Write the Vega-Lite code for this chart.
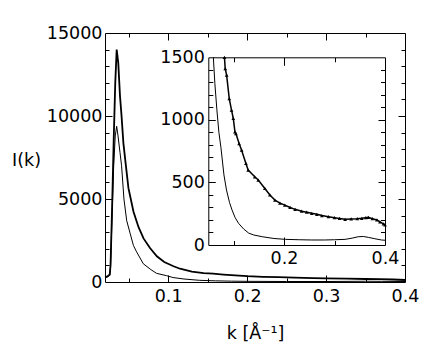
{
  "$schema": "https://vega.github.io/schema/vega-lite/v6.json",
  "width": 300,
  "height": 249,
  "autosize": "none",
  "padding": {"left": 105, "top": 33, "right": 29, "bottom": 71},
  "background": "white",
  "config": {
    "view": {"stroke": "black", "strokeWidth": 1},
    "axis": {"labelFont": "DejaVu Sans", "labelFontSize": 17.5, "labelColor": "black", "titleFont": "DejaVu Sans", "titleFontSize": 17.5, "titleFontWeight": "normal", "titleColor": "black", "grid": false, "labelFlush": false, "labelOverlap": false, "tickColor": "black", "domainColor": "black", "tickWidth": 1, "domainWidth": 1}
  },
  "datasets": {
    "main": [
      {"k":0.020,"I":300,"s":"A"},{"k":0.023,"I":340,"s":"A"},{"k":0.026,"I":450,"s":"A"},{"k":0.027,"I":1000,"s":"A"},{"k":0.029,"I":4500,"s":"A"},{"k":0.031,"I":8500,"s":"A"},{"k":0.033,"I":12000,"s":"A"},{"k":0.0348,"I":14000,"s":"A"},{"k":0.0368,"I":13200,"s":"A"},{"k":0.039,"I":11200,"s":"A"},{"k":0.041,"I":9980,"s":"A"},{"k":0.0433,"I":8370,"s":"A"},{"k":0.0465,"I":7000,"s":"A"},{"k":0.0497,"I":5650,"s":"A"},{"k":0.0561,"I":4235,"s":"A"},{"k":0.0625,"I":3300,"s":"A"},{"k":0.0688,"I":2625,"s":"A"},{"k":0.077,"I":2050,"s":"A"},{"k":0.0857,"I":1550,"s":"A"},{"k":0.095,"I":1200,"s":"A"},{"k":0.1068,"I":950,"s":"A"},{"k":0.115,"I":800,"s":"A"},{"k":0.13,"I":620,"s":"A"},{"k":0.145,"I":540,"s":"A"},{"k":0.157,"I":500,"s":"A"},{"k":0.17,"I":450,"s":"A"},{"k":0.185,"I":400,"s":"A"},{"k":0.2,"I":350,"s":"A"},{"k":0.22,"I":310,"s":"A"},{"k":0.24,"I":290,"s":"A"},{"k":0.26,"I":260,"s":"A"},{"k":0.284,"I":235,"s":"A"},{"k":0.3,"I":220,"s":"A"},{"k":0.326,"I":200,"s":"A"},{"k":0.35,"I":180,"s":"A"},{"k":0.368,"I":170,"s":"A"},{"k":0.385,"I":150,"s":"A"},{"k":0.4,"I":120,"s":"A"},
      {"k":0.020,"I":250,"s":"B"},{"k":0.023,"I":300,"s":"B"},{"k":0.026,"I":400,"s":"B"},{"k":0.027,"I":900,"s":"B"},{"k":0.029,"I":4000,"s":"B"},{"k":0.031,"I":7000,"s":"B"},{"k":0.033,"I":8800,"s":"B"},{"k":0.0348,"I":9380,"s":"B"},{"k":0.0365,"I":8800,"s":"B"},{"k":0.039,"I":7800,"s":"B"},{"k":0.041,"I":7000,"s":"B"},{"k":0.044,"I":5000,"s":"B"},{"k":0.0475,"I":3690,"s":"B"},{"k":0.052,"I":2900,"s":"B"},{"k":0.056,"I":2200,"s":"B"},{"k":0.06,"I":1815,"s":"B"},{"k":0.0685,"I":1100,"s":"B"},{"k":0.078,"I":750,"s":"B"},{"k":0.0854,"I":520,"s":"B"},{"k":0.098,"I":380,"s":"B"},{"k":0.106,"I":270,"s":"B"},{"k":0.12,"I":180,"s":"B"},{"k":0.14,"I":100,"s":"B"},{"k":0.16,"I":70,"s":"B"},{"k":0.18,"I":50,"s":"B"},{"k":0.2,"I":40,"s":"B"},{"k":0.25,"I":30,"s":"B"},{"k":0.3,"I":30,"s":"B"},{"k":0.35,"I":45,"s":"B"},{"k":0.37,"I":40,"s":"B"},{"k":0.4,"I":30,"s":"B"}
    ],
    "inset": [
      {"k":0.082,"I":1500,"s":"U"},{"k":0.0835,"I":1410,"s":"U"},{"k":0.0863,"I":1357,"s":"U"},{"k":0.0915,"I":1170,"s":"U"},{"k":0.096,"I":1077,"s":"U"},{"k":0.0995,"I":1011,"s":"U"},{"k":0.1028,"I":904,"s":"U"},{"k":0.1047,"I":891,"s":"U"},{"k":0.111,"I":811,"s":"U"},{"k":0.116,"I":758,"s":"U"},{"k":0.1245,"I":652,"s":"U"},{"k":0.129,"I":599,"s":"U"},{"k":0.142,"I":545,"s":"U"},{"k":0.149,"I":519,"s":"U"},{"k":0.162,"I":452,"s":"U"},{"k":0.172,"I":400,"s":"U"},{"k":0.182,"I":359,"s":"U"},{"k":0.192,"I":335,"s":"U"},{"k":0.2016,"I":319,"s":"U"},{"k":0.212,"I":300,"s":"U"},{"k":0.222,"I":285,"s":"U"},{"k":0.235,"I":270,"s":"U"},{"k":0.245,"I":262,"s":"U"},{"k":0.255,"I":253,"s":"U"},{"k":0.265,"I":245,"s":"U"},{"k":0.275,"I":235,"s":"U"},{"k":0.288,"I":226,"s":"U"},{"k":0.3,"I":218,"s":"U"},{"k":0.31,"I":212,"s":"U"},{"k":0.321,"I":205,"s":"U"},{"k":0.333,"I":208,"s":"U"},{"k":0.345,"I":210,"s":"U"},{"k":0.354,"I":213,"s":"U"},{"k":0.362,"I":218,"s":"U"},{"k":0.367,"I":221,"s":"U"},{"k":0.375,"I":210,"s":"U"},{"k":0.384,"I":200,"s":"U"},{"k":0.39,"I":185,"s":"U"},{"k":0.397,"I":168,"s":"U"},{"k":0.4,"I":160,"s":"U"},
      {"k":0.060,"I":1500,"s":"L"},{"k":0.063,"I":1290,"s":"L"},{"k":0.067,"I":1080,"s":"L"},{"k":0.071,"I":900,"s":"L"},{"k":0.075,"I":780,"s":"L"},{"k":0.081,"I":560,"s":"L"},{"k":0.086,"I":440,"s":"L"},{"k":0.092,"I":340,"s":"L"},{"k":0.097,"I":280,"s":"L"},{"k":0.103,"I":220,"s":"L"},{"k":0.11,"I":173,"s":"L"},{"k":0.12,"I":128,"s":"L"},{"k":0.13,"I":95,"s":"L"},{"k":0.14,"I":80,"s":"L"},{"k":0.157,"I":66,"s":"L"},{"k":0.18,"I":52,"s":"L"},{"k":0.203,"I":45,"s":"L"},{"k":0.23,"I":42,"s":"L"},{"k":0.255,"I":40,"s":"L"},{"k":0.28,"I":40,"s":"L"},{"k":0.3,"I":42,"s":"L"},{"k":0.321,"I":45,"s":"L"},{"k":0.335,"I":55,"s":"L"},{"k":0.347,"I":66,"s":"L"},{"k":0.357,"I":68,"s":"L"},{"k":0.367,"I":61,"s":"L"},{"k":0.38,"I":50,"s":"L"},{"k":0.393,"I":40,"s":"L"},{"k":0.4,"I":38,"s":"L"}
    ]
  },
  "resolve": {"scale": {"x": "independent", "y": "independent"}, "axis": {"x": "independent", "y": "independent"}},
  "layer": [
    {
      "data": {"name": "main"},
      "transform": [{"filter": "datum.s == 'B'"}],
      "mark": {"type": "line", "color": "black", "strokeWidth": 1},
      "encoding": {
        "x": {"field": "k", "type": "quantitative", "scale": {"domain": [0.02, 0.4], "nice": false, "zero": false},
          "axis": {"orient": "bottom", "values": [0.1, 0.2, 0.3, 0.4], "ticks": false, "domain": false, "labelPadding": 5, "format": ".1f", "title": "k [Å⁻¹]", "titleX": 150, "titleY": 56, "titleAlign": "center", "titleBaseline": "alphabetic"}},
        "y": {"field": "I", "type": "quantitative", "scale": {"domain": [0, 15000], "nice": false},
          "axis": {"orient": "left", "values": [0, 5000, 10000, 15000], "ticks": false, "domain": false, "labelPadding": 3, "format": "d", "title": "I(k)", "titleAngle": 0, "titleX": -79, "titleY": 127, "titleAlign": "center", "titleBaseline": "middle"}}
      }
    },
    {
      "data": {"name": "main"},
      "transform": [{"filter": "datum.s == 'A'"}],
      "mark": {"type": "line", "color": "black", "strokeWidth": 1.8},
      "encoding": {
        "x": {"field": "k", "type": "quantitative", "scale": {"domain": [0.02, 0.4], "nice": false, "zero": false},
          "axis": {"orient": "bottom", "values": [0.05, 0.1, 0.15, 0.2, 0.25, 0.3, 0.35], "labels": false, "domain": false, "title": null, "tickSize": {"condition": {"test": "round(datum.value*100) % 10 == 0", "value": -7}, "value": -4}}},
        "y": {"field": "I", "type": "quantitative", "scale": {"domain": [0, 15000], "nice": false},
          "axis": {"orient": "left", "values": [1000, 2000, 3000, 4000, 5000, 6000, 7000, 8000, 9000, 10000, 11000, 12000, 13000, 14000], "labels": false, "domain": false, "title": null, "tickSize": {"condition": {"test": "datum.value % 5000 == 0", "value": -7}, "value": -4}}}
      }
    },
    {
      "data": {"name": "main"},
      "transform": [{"filter": "datum.s == 'B'"}],
      "mark": {"type": "line", "color": "black", "strokeOpacity": 0},
      "encoding": {
        "x": {"field": "k", "type": "quantitative", "scale": {"domain": [0.02, 0.4], "nice": false, "zero": false},
          "axis": {"orient": "top", "values": [0.05, 0.1, 0.15, 0.2, 0.25, 0.3, 0.35], "labels": false, "domain": false, "title": null, "tickSize": {"condition": {"test": "round(datum.value*100) % 10 == 0", "value": -7}, "value": -4}}},
        "y": {"field": "I", "type": "quantitative", "scale": {"domain": [0, 15000], "nice": false},
          "axis": {"orient": "right", "values": [1000, 2000, 3000, 4000, 5000, 6000, 7000, 8000, 9000, 10000, 11000, 12000, 13000, 14000], "labels": false, "domain": false, "title": null, "tickSize": {"condition": {"test": "datum.value % 5000 == 0", "value": -7}, "value": -4}}}
      }
    },
    {
      "data": {"name": "inset"},
      "transform": [{"filter": "datum.s == 'L'"}],
      "mark": {"type": "line", "color": "black", "strokeWidth": 1},
      "encoding": {
        "x": {"field": "k", "type": "quantitative", "scale": {"domain": [0.05, 0.4], "range": [103.3, 280], "nice": false, "zero": false},
          "axis": {"orient": "bottom", "offset": -37, "values": [0.2, 0.4], "ticks": false, "domain": true, "labelPadding": 4, "format": ".1f", "title": null}},
        "y": {"field": "I", "type": "quantitative", "scale": {"domain": [0, 1500], "range": [212, 24.3], "nice": false},
          "axis": {"orient": "left", "offset": -103.3, "values": [0, 500, 1000, 1500], "ticks": false, "domain": true, "labelPadding": 4, "format": "d", "title": null}}
      }
    },
    {
      "data": {"name": "inset"},
      "transform": [{"filter": "datum.s == 'U'"}],
      "mark": {"type": "line", "color": "black", "strokeWidth": 1.5},
      "encoding": {
        "x": {"field": "k", "type": "quantitative", "scale": {"domain": [0.05, 0.4], "range": [103.3, 280], "nice": false, "zero": false},
          "axis": {"orient": "top", "offset": -24.3, "values": [0.1, 0.2, 0.3], "labels": false, "domain": true, "title": null, "tickSize": {"condition": {"test": "round(datum.value*10) % 2 == 0", "value": -8}, "value": -4.5}}},
        "y": {"field": "I", "type": "quantitative", "scale": {"domain": [0, 1500], "range": [212, 24.3], "nice": false},
          "axis": {"orient": "right", "offset": -20, "values": [100, 200, 300, 400, 500, 600, 700, 800, 900, 1000, 1100, 1200, 1300, 1400], "labels": false, "domain": true, "title": null, "tickSize": {"condition": {"test": "datum.value % 500 == 0", "value": -7}, "value": -4.5}}}
      }
    },
    {
      "data": {"name": "inset"},
      "transform": [{"filter": "datum.s == 'U'"}],
      "mark": {"type": "point", "shape": "triangle-up", "filled": true, "color": "black", "size": 14, "opacity": 1},
      "encoding": {
        "x": {"field": "k", "type": "quantitative", "scale": {"domain": [0.05, 0.4], "range": [103.3, 280], "nice": false, "zero": false},
          "axis": {"orient": "bottom", "offset": -37, "values": [0.1, 0.2, 0.3], "labels": false, "domain": false, "title": null, "tickSize": {"condition": {"test": "round(datum.value*10) % 2 == 0", "value": -8}, "value": -4.5}}},
        "y": {"field": "I", "type": "quantitative", "scale": {"domain": [0, 1500], "range": [212, 24.3], "nice": false},
          "axis": {"orient": "left", "offset": -103.3, "values": [100, 200, 300, 400, 500, 600, 700, 800, 900, 1000, 1100, 1200, 1300, 1400], "labels": false, "domain": false, "title": null, "tickSize": {"condition": {"test": "datum.value % 500 == 0", "value": -7}, "value": -4.5}}}
      }
    }
  ]
}
